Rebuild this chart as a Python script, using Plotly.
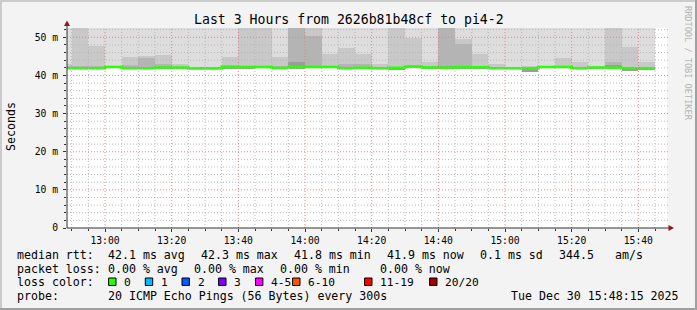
import plotly.graph_objects as go
import pandas as pd

# ---------------- data ----------------
DATE = "2025-12-30"
slot_start = ["12:45", "12:50", "12:55", "13:00", "13:05", "13:10", "13:15", "13:20",
              "13:25", "13:30", "13:35", "13:40", "13:45", "13:50", "13:55", "14:00",
              "14:05", "14:10", "14:15", "14:20", "14:25", "14:30", "14:35", "14:40",
              "14:45", "14:50", "14:55", "15:00", "15:05", "15:10", "15:15", "15:20",
              "15:25", "15:30", "15:35", "15:40"]
median_ms = [41.9, 41.9, 41.9, 42.2, 41.9, 41.9, 42.1, 42.1, 41.85, 41.85, 42.25, 42.2,
             42.2, 41.95, 42.2, 42.2, 42.2, 41.9, 42.0, 41.9, 42.0, 42.3, 42.1, 42.0,
             42.15, 42.15, 41.9, 41.9, 41.85, 42.2, 42.2, 41.9, 42.1, 42.0, 41.9, 41.85]
min_ms = [41.7, 41.7, 41.7, 42.0, 41.7, 41.7, 41.9, 41.9, 41.7, 41.7, 41.7, 41.8,
          42.0, 41.8, 41.8, 42.0, 42.0, 41.7, 41.8, 41.7, 41.5, 42.1, 41.9, 41.8,
          41.9, 41.9, 41.7, 41.7, 41.0, 42.0, 42.0, 41.7, 41.6, 41.8, 41.2, 41.6]
core_ms = [42.0, 42.1, 42.1, 42.3, 42.1, 42.2, 42.3, 42.2, 41.9, 41.9, 42.3, 42.3,
           42.3, 42.1, 43.5, 42.4, 42.3, 42.1, 42.2, 42.0, 42.1, 42.4, 42.2, 42.6,
           42.3, 42.3, 42.0, 42.0, 42.0, 42.3, 42.3, 42.0, 42.2, 42.7, 42.0, 42.0]
dark_ms = [42.4, 42.5, 42.4, 42.3, 42.7, 44.5, 43.1, 42.3, 41.9, 41.9, 42.5, 42.4,
           42.5, 42.4, 60.0, 50.3, 42.6, 43.1, 43.1, 42.2, 42.3, 42.6, 42.4, 60.0,
           48.2, 42.5, 42.2, 42.1, 42.2, 42.4, 42.5, 42.2, 42.3, 43.6, 42.3, 42.2]
mid_ms = [42.9, 60.0, 47.7, 42.6, 44.8, 45.1, 45.4, 43.1, 42.1, 42.1, 44.8, 60.0,
          60.0, 44.8, 60.0, 60.0, 45.7, 47.3, 45.7, 43.1, 60.0, 49.9, 43.6, 60.0,
          49.5, 45.5, 42.9, 42.3, 42.6, 42.6, 44.7, 43.6, 42.4, 60.0, 47.5, 43.6]
max_ms = [60.0] * len(slot_start)

y_tick_vals = [0, 10, 20, 30, 40, 50]
y_tick_text = ["0", "10 m", "20 m", "30 m", "40 m", "50 m"]

loss_labels = ["0", "1", "2", "3", "4-5", "6-10", "11-19", "20/20"]
loss_colors = ["#26ff00", "#00b8ff", "#0059ff", "#7e00ff", "#ff00ff", "#ff5500", "#ff0000", "#a00000"]

# ---------------- geometry helpers (pixels -> paper) ----------------
W, H = 697, 310
L, R, T, B = 67, 667, 28, 228


def px(X):
    return (X - L) / (R - L)


def py(Y):
    return (B - Y) / (B - T)


MONO = "DejaVu Sans Mono"
LEG = 11.6

starts = pd.to_datetime([f"{DATE} {s}" for s in slot_start])
slot = pd.Timedelta(minutes=5)
centers = starts + slot / 2

fig = go.Figure()

layers = [(max_ms, "#dddddd"), (mid_ms, "#c8c8c8"), (dark_ms, "#b4b4b4"), (core_ms, "#9c9c9c")]
for top, color in layers:
    fig.add_trace(go.Bar(
        x=centers, base=min_ms, y=[t - b for t, b in zip(top, min_ms)],
        width=300000, marker=dict(color=color, line=dict(width=0)),
        hoverinfo="skip", showlegend=False))

line_x = list(starts) + [starts[-1] + slot]
line_y = list(median_ms) + [median_ms[-1]]
fig.add_trace(go.Scatter(x=line_x, y=line_y, mode="lines",
                         line=dict(color="#26ff00", width=2.6, shape="hv"),
                         hoverinfo="skip", showlegend=False))

x_start = pd.Timestamp(f"{DATE} 12:48:36")
x_end = pd.Timestamp(f"{DATE} 15:48:36")
y_top = 52.44

shapes = []
# horizontal grid
for v in range(2, 53, 2):
    major = v % 10 == 0
    shapes.append(dict(type="line", xref="paper", yref="y", x0=0, x1=px(668), y0=v, y1=v,
                       line=dict(color="rgba(240,120,120,0.9)" if major else "rgba(180,180,180,0.9)",
                                 width=1, dash="1px,2px"), layer="above"))
# vertical grid
for t in pd.date_range(f"{DATE} 12:50", f"{DATE} 15:45", freq="5min"):
    major = t.minute % 20 == 0
    shapes.append(dict(type="line", xref="x", yref="paper", x0=t, x1=t, y0=0, y1=1,
                       line=dict(color="rgba(240,120,120,0.9)" if major else "rgba(180,180,180,0.9)",
                                 width=1, dash="1px,2px"), layer="above"))

AX = "#333333"
ARROW = "#8b1a1a"
# axis lines with arrows
shapes.append(dict(type="line", xref="paper", yref="paper", x0=0, x1=0, y0=0, y1=py(25),
                   line=dict(color=AX, width=1), layer="above"))
shapes.append(dict(type="line", xref="paper", yref="paper", x0=0, x1=px(669), y0=0, y1=0,
                   line=dict(color=AX, width=1), layer="above"))
shapes.append(dict(type="path", xref="paper", yref="paper",
                   path=f"M {px(67)} {py(20.5)} L {px(64)} {py(26)} L {px(70)} {py(26)} Z",
                   fillcolor=ARROW, line=dict(width=0), layer="above"))
shapes.append(dict(type="path", xref="paper", yref="paper",
                   path=f"M {px(674)} {py(228)} L {px(668.5)} {py(225)} L {px(668.5)} {py(231)} Z",
                   fillcolor=ARROW, line=dict(width=0), layer="above"))

# frame shading
shapes.append(dict(type="rect", xref="paper", yref="paper", x0=px(0), x1=px(W), y0=py(0), y1=py(2),
                   fillcolor="#cbcbcb", line=dict(width=0)))
shapes.append(dict(type="rect", xref="paper", yref="paper", x0=px(0), x1=px(2), y0=py(0), y1=py(H),
                   fillcolor="#cbcbcb", line=dict(width=0)))
shapes.append(dict(type="rect", xref="paper", yref="paper", x0=px(0), x1=px(W), y0=py(H - 2), y1=py(H),
                   fillcolor="#a0a0a0", line=dict(width=0)))
shapes.append(dict(type="rect", xref="paper", yref="paper", x0=px(W - 2), x1=px(W), y0=py(0), y1=py(H),
                   fillcolor="#a0a0a0", line=dict(width=0)))

annotations = []


def txt(x, y, s, size=LEG, anchor="left", color="black", angle=0, yanchor="middle"):
    annotations.append(dict(xref="paper", yref="paper", x=px(x), y=py(y), text=s, showarrow=False,
                            xanchor=anchor, yanchor=yanchor, textangle=angle, borderpad=0,
                            font=dict(family=MONO, size=size, color=color)))


txt(348.5, 19.5, "Last 3 Hours from 2626b81b48cf to pi4-2", size=13.2, anchor="center")
txt(11, 127, "Seconds", size=11.6, anchor="center", angle=-90)
txt(688, 63, "RRDTOOL / TOBI OETIKER", size=8.6, anchor="center", angle=90, color="#b4b4b4")

row1 = 255
txt(16, row1, "median rtt:")
for x, s in [(107.3, "42.1 ms avg"), (200, "42.3 ms max"), (292.7, "41.8 ms min"),
             (386, "41.9 ms now"), (479.3, "0.1 ms sd"), (558.3, "344.5"), (614, "am/s")]:
    txt(x, row1, s)
row2 = 268.5
txt(16, row2, "packet loss:")
for x, s in [(107.3, "0.00 % avg"), (193.3, "0.00 % max"), (279.3, "0.00 % min"), (379.3, "0.00 % now")]:
    txt(x, row2, s)
row3 = 282
txt(16, row3, "loss color:")
label_x = [123.3, 160, 196.7, 233.3, 270.2, 307.3, 379.3, 444.3]
for x, lab, col in zip(label_x, loss_labels, loss_colors):
    shapes.append(dict(type="rect", xref="paper", yref="paper", x0=px(x - 14.7), x1=px(x - 7.3),
                       y0=py(285.5), y1=py(278), fillcolor=col, line=dict(color="black", width=1)))
    txt(x, row3, lab, size=11.2)
row4 = 295.5
txt(16, row4, "probe:")
txt(107.3, row4, "20 ICMP Echo Pings (56 Bytes) every 300s")
txt(680, row4, "Tue Dec 30 15:48:15 2025", anchor="right")

fig.update_layout(
    width=W, height=H,
    margin=dict(l=L, r=W - R, t=T, b=H - B, pad=0),
    paper_bgcolor="#f3f3f3", plot_bgcolor="#ffffff",
    barmode="overlay", bargap=0,
    showlegend=False,
    shapes=shapes, annotations=annotations,
    xaxis=dict(type="date", range=[x_start, x_end], showgrid=False, zeroline=False,
               showline=False, ticks="outside", ticklen=3, tickcolor=AX,
               tickformat="%H:%M", dtick=1200000, tick0=f"{DATE} 13:00",
               tickfont=dict(family=MONO, size=9.7, color="black"),
               minor=dict(dtick=300000, tick0=f"{DATE} 13:00", ticks="outside", ticklen=2,
                          tickcolor=AX, showgrid=False)),
    yaxis=dict(range=[0, y_top], showgrid=False, zeroline=False, showline=False,
               tickvals=y_tick_vals, ticktext=y_tick_text, ticks="outside", ticklen=3,
               tickcolor=AX, tickfont=dict(family=MONO, size=9.7, color="black"),
               ticklabelstandoff=3,
               minor=dict(dtick=2, ticks="outside", ticklen=2, tickcolor=AX, showgrid=False)),
)

fig.write_html("out.html")
